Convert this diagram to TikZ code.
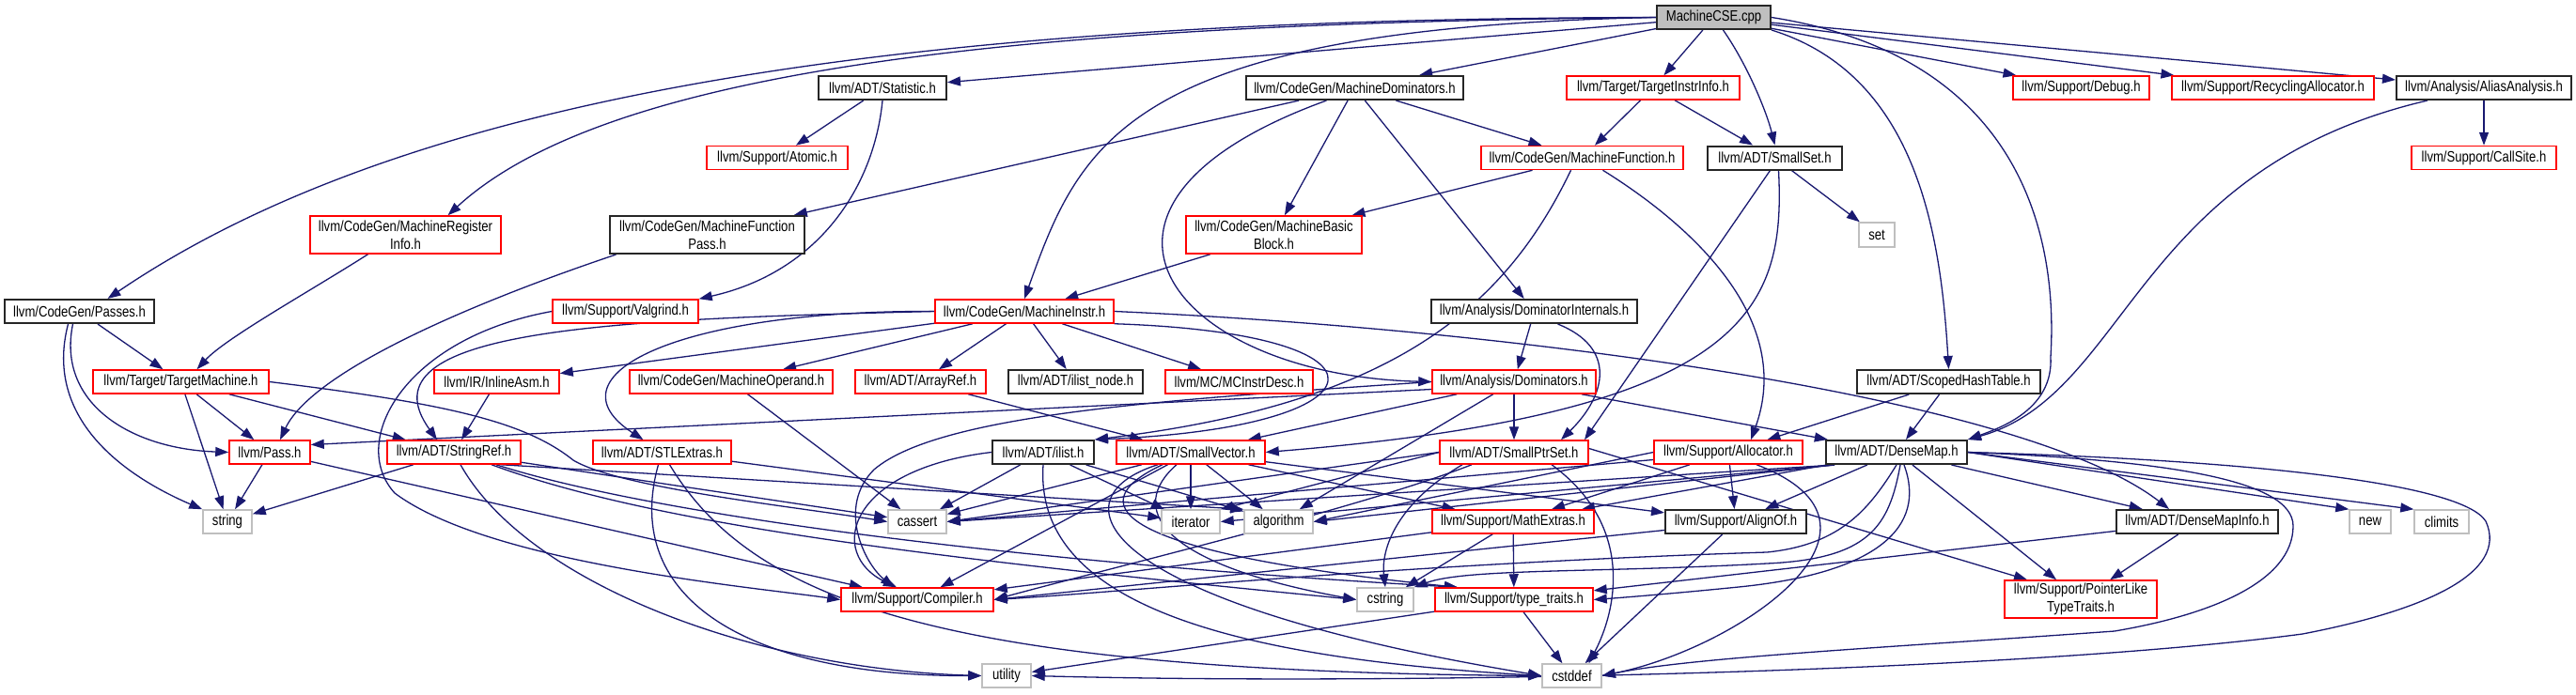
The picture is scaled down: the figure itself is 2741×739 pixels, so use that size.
\documentclass[tikz,border=0pt]{standalone}
\usepackage{fontspec}
\setmainfont{Liberation Sans}[FakeStretch=0.82]
\usetikzlibrary{arrows.meta,backgrounds}
\definecolor{incblue}{HTML}{191970}
\definecolor{sysgray}{HTML}{BFBFBF}

\begin{document}
\begin{tikzpicture}[x=1pt, y=-1pt,
	every node/.style={font=\fontsize{16}{19}\selectfont, inner sep=0pt, minimum height=25pt, fill=white},
	hred/.style={draw=red, line width=1.5pt},
	hblack/.style={draw=black!85, line width=2pt},
	hsys/.style={draw=sysgray, line width=1.5pt},
	hroot/.style={draw=black!85, line width=2pt, fill=sysgray},
	twoline/.style={minimum height=40pt, align=center},
	inc/.style={incblue, line width=1.3pt, -{Triangle[length=14pt,width=10pt]}}]
	\useasboundingbox (0,0) rectangle (2741,739);

	% row 0 and 1
	\node[hroot, minimum width=121pt] (cse) at (1823.5,18.5) {MachineCSE.cpp};
	\node[hblack, minimum width=136pt] (stat) at (939,93.5) {llvm/ADT/Statistic.h};
	\node[hblack, minimum width=231pt] (mdom) at (1441.5,93.5) {llvm/CodeGen/MachineDominators.h};
	\node[hred, minimum width=184pt] (tii) at (1759,93.5) {llvm/Target/TargetInstrInfo.h};
	\node[hred, minimum width=145pt] (debug) at (2214.5,93.5) {llvm/Support/Debug.h};
	\node[hred, minimum width=215pt] (recyc) at (2418.5,93.5) {llvm/Support/RecyclingAllocator.h};
	\node[hblack, minimum width=186pt] (alias) at (2643,93.5) {llvm/Analysis/AliasAnalysis.h};
	% row 2 and 3
	\node[hred, minimum width=150pt] (atomic) at (827,168) {llvm/Support/Atomic.h};
	\node[hred, minimum width=215pt] (mfunc) at (1683.5,168) {llvm/CodeGen/MachineFunction.h};
	\node[hblack, minimum width=143pt] (smallset) at (1888.5,168) {llvm/ADT/SmallSet.h};
	\node[hred, minimum width=154pt] (callsite) at (2643,168) {llvm/Support/CallSite.h};
	\node[hred, twoline, minimum width=203pt] (mreg) at (431.5,250) {llvm/CodeGen/MachineRegister\\Info.h};
	\node[hblack, twoline, minimum width=207pt] (mfpass) at (752.5,250) {llvm/CodeGen/MachineFunction\\Pass.h};
	\node[hred, twoline, minimum width=187pt] (mbb) at (1355.5,250) {llvm/CodeGen/MachineBasic\\Block.h};
	\node[hsys, minimum width=38pt, minimum height=26pt] (set) at (1997,250) {set};
	% row 4 and 5
	\node[hblack, minimum width=159pt] (passes) at (84.5,331.5) {llvm/CodeGen/Passes.h};
	\node[hred, minimum width=155pt] (valgrind) at (665.5,331.5) {llvm/Support/Valgrind.h};
	\node[hred, minimum width=190pt] (minstr) at (1090,331.5) {llvm/CodeGen/MachineInstr.h};
	\node[hblack, minimum width=219pt] (domint) at (1632.5,331.5) {llvm/Analysis/DominatorInternals.h};
	\node[hred, minimum width=187pt] (tmach) at (192.5,406.5) {llvm/Target/TargetMachine.h};
	\node[hred, minimum width=133pt] (inlasm) at (528.5,406.5) {llvm/IR/InlineAsm.h};
	\node[hred, minimum width=216pt] (mop) at (778,406.5) {llvm/CodeGen/MachineOperand.h};
	\node[hred, minimum width=139pt] (arrayref) at (979.5,406.5) {llvm/ADT/ArrayRef.h};
	\node[hblack, minimum width=143pt] (ilistnode) at (1144.5,406.5) {llvm/ADT/ilist\_node.h};
	\node[hred, minimum width=157pt] (mcid) at (1318.5,406.5) {llvm/MC/MCInstrDesc.h};
	\node[hred, minimum width=174pt] (dom) at (1611,406.5) {llvm/Analysis/Dominators.h};
	\node[hblack, minimum width=195pt] (scoped) at (2073.5,406.5) {llvm/ADT/ScopedHashTable.h};
	% row 6
	\node[hred, minimum width=86pt] (pass) at (287,481.5) {llvm/Pass.h};
	\node[hred, minimum width=142pt] (strref) at (483,481.5) {llvm/ADT/StringRef.h};
	\node[hred, minimum width=147pt] (stlext) at (704.5,481.5) {llvm/ADT/STLExtras.h};
	\node[hblack, minimum width=108pt] (ilist) at (1110,481.5) {llvm/ADT/ilist.h};
	\node[hred, minimum width=158pt] (svec) at (1267,481.5) {llvm/ADT/SmallVector.h};
	\node[hred, minimum width=158pt] (sptrset) at (1611,481.5) {llvm/ADT/SmallPtrSet.h};
	\node[hred, minimum width=158pt] (alloc) at (1839,481.5) {llvm/Support/Allocator.h};
	\node[hblack, minimum width=150pt] (dmap) at (2018,481.5) {llvm/ADT/DenseMap.h};
	% row 7
	\node[hsys, minimum width=52pt] (string) at (242,555.5) {string};
	\node[hsys, minimum width=62pt] (cassert) at (976,555.5) {cassert};
	\node[hsys, minimum width=62pt] (iterator) at (1267,555.5) {iterator};
	\node[hsys, minimum width=73pt] (algorithm) at (1360.5,555.5) {algorithm};
	\node[hred, minimum width=172pt] (mathext) at (1610,555.5) {llvm/Support/MathExtras.h};
	\node[hblack, minimum width=150pt] (alignof) at (1847,555.5) {llvm/Support/AlignOf.h};
	\node[hblack, minimum width=172pt] (dmapinfo) at (2338,555.5) {llvm/ADT/DenseMapInfo.h};
	\node[hsys, minimum width=44pt] (new) at (2522,555.5) {new};
	\node[hsys, minimum width=58pt] (climits) at (2598,555.5) {climits};
	% row 8 and 9
	\node[hred, minimum width=162pt] (compiler) at (976,638.5) {llvm/Support/Compiler.h};
	\node[hsys, minimum width=60pt] (cstring) at (1474,638.5) {cstring};
	\node[hred, minimum width=168pt] (typetr) at (1611,638.5) {llvm/Support/type\_traits.h};
	\node[hred, twoline, minimum width=162pt] (pltt) at (2214,638) {llvm/Support/PointerLike\\TypeTraits.h};
	\node[hsys, minimum width=52pt] (utility) at (1071,719.5) {utility};
	\node[hsys, minimum width=63pt] (cstddef) at (1672.5,719.5) {cstddef};

	\coordinate (dmapsw) at ([xshift=10pt]dmap.south west);

	\begin{scope}[on background layer]
	% plain includes
	\foreach \a/\b in {cse/stat, cse/mdom, cse/tii, cse/debug, cse/recyc, cse/alias,
		stat/atomic, mdom/mfpass, mdom/mbb, mdom/mfunc, mdom/domint, tii/mfunc, tii/smallset,
		mfunc/mbb, smallset/set, alias/callsite, mbb/minstr, domint/dom,
		passes/tmach, tmach/pass, tmach/string, tmach/strref, pass/string, pass/compiler,
		strref/string, strref/cassert, inlasm/strref, mop/cassert, arrayref/svec, stlext/iterator,
		minstr/inlasm, minstr/mop, minstr/arrayref, minstr/ilistnode, minstr/mcid,
		ilist/cassert, ilist/iterator, ilist/algorithm,
		svec/cassert, svec/iterator, svec/algorithm, svec/compiler, svec/mathext, svec/alignof,
		sptrset.west/cassert.east, sptrset.west/iterator.north east,
		mathext/cstring, mathext/typetr, mathext/compiler, typetr/utility, typetr/cstddef,
		alloc/alignof, alloc/mathext, alloc.west/algorithm.east, alignof/cstddef,
		dmap/dmapinfo, dmap/alignof, dmap/mathext, dmap/pltt, dmap.east/new.north west,
		dmap.east/climits.north west, dmapsw/algorithm.east, dmapsw/cassert.east, dmapsw/iterator.east,
		dmapinfo/pltt, dmapinfo/typetr, scoped/dmap, scoped/alloc,
		dom/svec, dom/sptrset, dom/dmap, dom/algorithm}
		\draw[inc] (\a) -- (\b);

	% shifted ends
	\draw[inc] ([xshift=-5pt]smallset.south) -- ([xshift=75pt]sptrset.north);
	\draw[inc] ([yshift=4pt]sptrset.east) -- ([xshift=-57pt]pltt.north);
	\draw[inc] ([yshift=-8pt]alloc.west) -- (cassert.east);
	\draw[inc] ([yshift=-9pt]alignof.west) -- (compiler.east);
	\draw[inc] ([yshift=-8pt]dom.west) -- ([yshift=8pt]pass.east);
	\draw[inc] ([xshift=50pt]strref.south) -- (algorithm.north west);

	% curved includes
	\draw[inc] (cse.west) .. controls (1000,20) and (450,90) .. ([xshift=30pt]passes.north);
	\draw[inc] (cse.west) .. controls (1100,25) and (650,70) .. ([xshift=45pt]mreg.north);
	\draw[inc] (cse.west) .. controls (1200,30) and (1150,150) .. (minstr.north);
	\draw[inc] ([xshift=10pt]cse.south) .. controls (1860,70) and (1880,120) .. (smallset.north);
	\draw[inc] (cse.south east) .. controls (2040,80) and (2065,250) .. (scoped.north);
	\draw[inc] (cse.east) .. controls (2150,60) and (2190,250) .. (2182,380)
		.. controls (2185,435) and (2130,455) .. (dmap.north east);
	\draw[inc] (stat.south) .. controls (930,200) and (870,290) .. (valgrind.north east);
	\draw[inc] ([xshift=-30pt]mdom.south) .. controls (1100,220) and (1250,400) .. (dom.west);
	\draw[inc] ([xshift=-12pt]mfunc.south) .. controls (1600,330) and (1480,430) .. (ilist.north east);
	\draw[inc] ([xshift=22pt]mfunc.south) .. controls (1800,240) and (1910,340) .. ([xshift=24pt]alloc.north);
	\draw[inc] ([xshift=4pt]smallset.south) .. controls (1900,330) and (1860,440) .. (svec.east);
	\draw[inc] ([xshift=-60pt]alias.south) .. controls (2270,180) and (2265,420) .. (dmap.north east);
	\draw[inc] ([xshift=-40pt]mreg.south) .. controls (330,310) and (240,360) .. ([xshift=17pt]tmach.north);
	\draw[inc] ([xshift=-97pt]mfpass.south) .. controls (480,330) and (330,400) .. ([xshift=11pt]pass.north);
	\draw[inc] ([xshift=-7pt]passes.south) .. controls (60,430) and (140,478) .. (pass.west);
	\draw[inc] ([xshift=-12pt]passes.south) .. controls (45,450) and (140,510) .. (string.north west);
	\draw[inc] (tmach.east) .. controls (480,430) and (560,450) .. (610,490)
		.. controls (660,520) and (850,540) .. (cassert.west);
	\draw[inc] (valgrind.west) .. controls (430,360) and (370,470) .. (420,525)
		.. controls (520,600) and (800,625) .. (compiler.west);
	\draw[inc] (minstr.west) .. controls (720,330) and (580,400) .. ([xshift=-20pt]stlext.north);
	\draw[inc] (minstr.west) .. controls (650,340) and (380,350) .. ([xshift=-18pt]strref.north);
	\draw[inc] (minstr.south east) .. controls (1500,355) and (1480,455) .. (ilist.north east);
	\draw[inc] (minstr.east) .. controls (1600,350) and (2150,420) .. ([xshift=-30pt]dmapinfo.north);
	\draw[inc] ([xshift=7pt]strref.south) .. controls (560,620) and (800,712) .. (utility.west);
	\draw[inc] ([xshift=40pt]strref.south) .. controls (700,560) and (1000,595) .. (cstring.west);
	\draw[inc] ([xshift=45pt]strref.south) .. controls (700,550) and (1100,600) .. ([xshift=-60pt]typetr.north);
	\draw[inc] ([xshift=-4pt]stlext.south) .. controls (660,640) and (800,720) .. (utility.west);
	\draw[inc] ([xshift=8pt]stlext.south) .. controls (800,640) and (1000,715) .. (cstddef.west);
	\draw[inc] ([xshift=25pt]domint.south) .. controls (1720,370) and (1710,420) .. ([xshift=50pt]sptrset.north);
	\draw[inc] (dom.west) .. controls (1250,425) and (1000,440) .. (930,500)
		.. controls (890,540) and (920,600) .. ([xshift=-25pt]compiler.north);
	\draw[inc] (ilist.west) .. controls (900,500) and (880,590) .. ([xshift=-22pt]compiler.north);
	\draw[inc] (ilist.south) .. controls (1100,640) and (1300,700) .. (cstddef.west);
	\draw[inc] ([xshift=-15pt]svec.south) .. controls (1200,540) and (1230,600) .. (cstring.west);
	\draw[inc] ([xshift=-30pt]svec.south) .. controls (1140,540) and (1200,590) .. ([xshift=-60pt]typetr.north);
	\draw[inc] ([xshift=-35pt]svec.south) .. controls (1120,530) and (1160,640) .. (cstddef.west);
	\draw[inc] ([xshift=-45pt]sptrset.south) .. controls (1450,540) and (1200,600) .. (compiler.east);
	\draw[inc] ([xshift=-55pt]sptrset.south) .. controls (1480,540) and (1470,590) .. (cstring.north);
	\draw[inc] ([xshift=40pt]sptrset.south) .. controls (1740,560) and (1720,650) .. ([xshift=18pt]cstddef.north);
	\draw[inc] ([xshift=30pt]alloc.south) .. controls (2040,560) and (1850,690) .. (cstddef.east);
	\draw[inc] (dmap.south) .. controls (1990,540) and (1960,580) .. (1880,588)
		.. controls (1500,600) and (1200,630) .. (compiler.east);
	\draw[inc] ([xshift=4pt]dmap.south) .. controls (2010,560) and (1990,595) .. (1880,600)
		.. controls (1700,610) and (1560,605) .. (cstring.north east);
	\draw[inc] ([xshift=8pt]dmap.south) .. controls (2050,560) and (2000,610) .. (1850,625)
		.. controls (1780,632) and (1730,636) .. (typetr.east);
	\draw[inc] (dmap.east) .. controls (2300,490) and (2440,510) .. (2440,560)
		.. controls (2440,620) and (2350,655) .. (2250,672)
		.. controls (2000,690) and (1800,700) .. (cstddef.east);
	\draw[inc] (dmap.east) .. controls (2400,490) and (2620,515) .. (2645,555)
		.. controls (2670,610) and (2580,650) .. (2450,675)
		.. controls (2150,715) and (1500,730) .. (utility.east);
	\end{scope}
\end{tikzpicture}
\end{document}
